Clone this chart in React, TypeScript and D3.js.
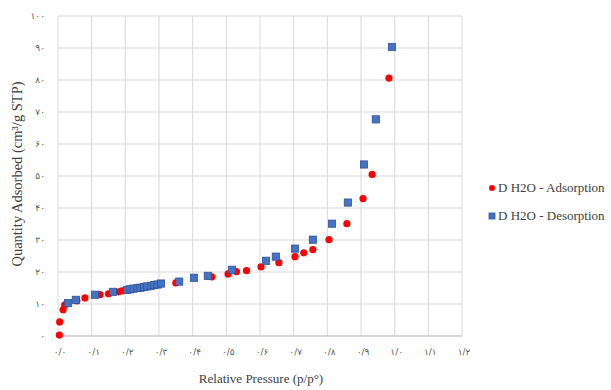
import React from "react";
import * as d3 from "d3";

const adsP = [0.004, 0.005, 0.015, 0.02, 0.056, 0.08, 0.125, 0.15, 0.18, 0.19, 0.22, 0.25, 0.28, 0.35, 0.457, 0.505, 0.53, 0.56, 0.603, 0.656, 0.704, 0.73, 0.757, 0.805, 0.858, 0.906, 0.933, 0.983];
const adsV = [0.3, 4.4, 8.2, 9.7, 11.0, 11.9, 12.9, 13.2, 13.8, 14.1, 14.7, 15.3, 15.9, 16.6, 18.5, 19.4, 20.1, 20.4, 21.6, 22.9, 24.8, 26.0, 27.0, 30.1, 35.1, 42.9, 50.5, 80.6];

const desP = [0.03, 0.053, 0.11, 0.163, 0.205, 0.214, 0.224, 0.236, 0.245, 0.256, 0.265, 0.276, 0.286, 0.296, 0.306, 0.36, 0.404, 0.445, 0.517, 0.618, 0.647, 0.704, 0.757, 0.814, 0.861, 0.909, 0.944, 0.992];
const desV = [10.3, 11.3, 12.9, 13.8, 14.4, 14.6, 14.8, 15.0, 15.1, 15.3, 15.5, 15.7, 15.9, 16.1, 16.4, 17.0, 18.2, 18.8, 20.7, 23.5, 24.8, 27.3, 30.1, 35.1, 41.7, 53.6, 67.7, 90.3];

const xTicks = [0, 0.1, 0.2, 0.3, 0.4, 0.5, 0.6, 0.7, 0.8, 0.9, 1.0, 1.1, 1.2];
const xTickLabels = ["۰/۰", "۰/۱", "۰/۲", "۰/۳", "۰/۴", "۰/۵", "۰/۶", "۰/۷", "۰/۸", "۰/۹", "۱/۰", "۱/۱", "۱/۲"];
const yTicks = [0, 10, 20, 30, 40, 50, 60, 70, 80, 90, 100];
const yTickLabels = ["۰", "۱۰", "۲۰", "۳۰", "۴۰", "۵۰", "۶۰", "۷۰", "۸۰", "۹۰", "۱۰۰"];
const seriesNames = ["D H2O - Adsorption", "D H2O - Desorption"];

export default function App() {
  const left = 58, right = 462, top = 16, bottom = 336;
  const x = d3.scaleLinear().domain([0, 1.2]).range([left, right]);
  const y = d3.scaleLinear().domain([0, 100]).range([bottom, top]);
  const tickFont = "'DejaVu Sans', sans-serif";
  const serif = "'Liberation Serif', 'Times New Roman', serif";
  const red = "#ff0000";
  const blue = "#4472c4";
  const blueStroke = "#2f5597";
  return (
    <svg width={611} height={390} style={{ position: "absolute", left: 0, top: 0, background: "#fff" }}>
      <rect width={611} height={390} fill="#fff" />
      {yTicks.map((t) => (
        <line key={"gy" + t} x1={left} x2={right} y1={y(t)} y2={y(t)} stroke="#d9d9d9" strokeWidth={1} />
      ))}
      {xTicks.map((t) => (
        <line key={"gx" + t} x1={x(t)} x2={x(t)} y1={top} y2={bottom} stroke="#d9d9d9" strokeWidth={1} />
      ))}
      <line x1={left} x2={right} y1={bottom} y2={bottom} stroke="#bfbfbf" strokeWidth={1} />
      {yTicks.map((t, i) => (
        <text key={"ly" + t} x={45} y={y(t) + 3} textAnchor="end" fontSize={9} fill="#595959" fontFamily={tickFont}>
          {yTickLabels[i]}
        </text>
      ))}
      {xTicks.map((t, i) => (
        <text key={"lx" + t} x={x(t) + 2} y={355} textAnchor="middle" fontSize={9} fill="#595959" fontFamily={tickFont}>
          {xTickLabels[i]}
        </text>
      ))}
      <text x={261} y={383} textAnchor="middle" fontSize={13} fill="#404040" fontFamily={serif}>
        Relative Pressure (p/p°)
      </text>
      <text transform={`translate(22, 174) rotate(-90)`} textAnchor="middle" fontSize={14.5} fill="#404040" fontFamily={serif}>
        Quantity Adsorbed (cm³/g STP)
      </text>
      {adsP.map((p, i) => (
        <circle key={"a" + i} cx={x(p)} cy={y(adsV[i])} r={3.6} fill={red} />
      ))}
      {desP.map((p, i) => (
        <rect key={"d" + i} x={x(p) - 3.6} y={y(desV[i]) - 3.6} width={7.2} height={7.2} fill={blue} stroke={blueStroke} strokeWidth={0.8} />
      ))}
      <circle cx={492} cy={188} r={3} fill={red} />
      <text x={498} y={192} fontSize={13} fill="#404040" fontFamily={serif}>{seriesNames[0]}</text>
      <rect x={489} y={213} width={6} height={6} fill={blue} stroke={blueStroke} strokeWidth={0.8} />
      <text x={498} y={220} fontSize={13} fill="#404040" fontFamily={serif}>{seriesNames[1]}</text>
    </svg>
  );
}
